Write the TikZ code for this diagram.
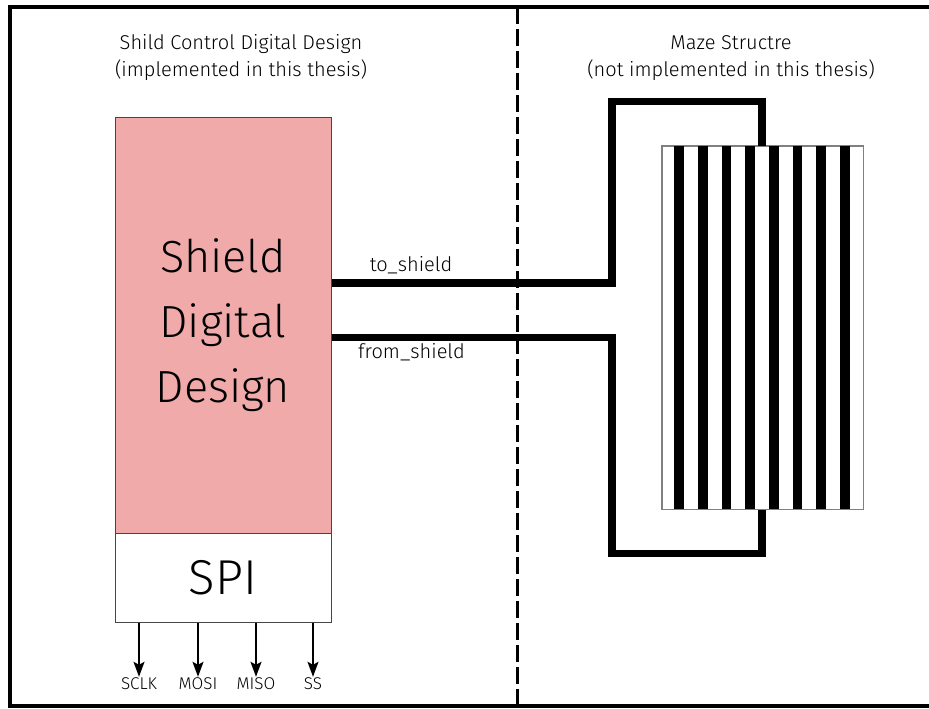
\documentclass[tikz,border=0pt]{standalone}
\usepackage{fontspec}
\setmainfont{Fira Sans}[UprightFont=* Light]
\usetikzlibrary{arrows.meta,calc}
\definecolor{corepink}{RGB}{240,170,170}
\definecolor{edgegray}{RGB}{70,70,70}
\begin{document}
\begin{tikzpicture}[x=1pt,y=-1pt,
  frameline/.style={line width=4.5pt},
  divider/.style={line width=3.6pt,dash pattern=on 17pt off 5pt},
  corebox/.style={draw=edgegray,line width=1pt,fill=corepink,minimum width=216pt,minimum height=416pt,inner sep=0pt,align=center,font=\fontsize{45}{65}\selectfont},
  spibox/.style={draw=edgegray,line width=1pt,fill=white,minimum width=216pt,minimum height=89pt,inner sep=0pt,font=\fontsize{49}{52}\selectfont},
  mazebox/.style={draw=gray,line width=1pt,minimum width=201pt,minimum height=363pt,inner sep=0pt},
  wire/.style={line width=7.5pt,line join=miter},
  pin/.style={line width=1.8pt,-{Stealth[length=15pt,width=11pt,inset=3pt]}},
  pinlabel/.style={font=\fontsize{17}{18}\selectfont,inner sep=1pt},
  heading/.style={align=center,font=\fontsize{20}{27}\selectfont},
  siglabel/.style={font=\fontsize{20}{22}\selectfont}]
\useasboundingbox (0,0) rectangle (929,709);
\clip (0,0) rectangle (929,709);

% outer frame (its right side lies beyond the page) and the dashed boundary
\draw[frameline] (10,7) rectangle (1000,706);
\coordinate (divtop) at (517.5,7);
\coordinate (divbot) at (517.5,706);
\draw[divider] (divtop) -- (divbot);

% headings
\node[heading] (lefthead) at (241,58) {Shild Control Digital Design\\(implemented in this thesis)};
\node[heading] (righthead) at (731,58) {Maze Structre\\(not implemented in this thesis)};

% digital design and its SPI block
\node[corebox] (sdd) at (223,325) {Shield\\Digital\\Design};
\node[spibox] (spi) at (223,577.5) {SPI};

% SPI pins
\node[pinlabel] (sclk) at (139,684) {SCLK};
\node[pinlabel] (mosi) at (198,684) {MOSI};
\node[pinlabel] (miso) at (256,684) {MISO};
\node[pinlabel] (ss)   at (313,684) {SS};
\foreach \p in {sclk,mosi,miso,ss}
  \draw[pin] (spi.south -| \p.north) -- (\p.north);

% maze structure with vertical stripes
\node[mazebox] (maze) at (762.5,327.5) {};
\foreach \i in {0,...,7}
  \fill ($(maze.north west)+(12.7+23.7*\i,0)$) rectangle ($(maze.south west)+(22.3+23.7*\i,0)$);
\draw[gray,line width=1pt] (maze.north west) rectangle (maze.south east);

% connections between design and maze
\coordinate (toy) at (0,283);
\coordinate (fromy) at (0,337.5);
\coordinate (tapx) at (762,0);
\coordinate (upper) at (612,101.5);
\coordinate (lower) at (612,553.5);
\draw[wire] (sdd.east |- toy) -| (upper) -| (maze.north -| tapx);
\draw[wire] (sdd.east |- fromy) -| (lower) -| (maze.south -| tapx);
\node[siglabel] (tolab) at (411,265) {to\_shield};
\node[siglabel] (fromlab) at (411.5,352) {from\_shield};
\end{tikzpicture}
\end{document}
